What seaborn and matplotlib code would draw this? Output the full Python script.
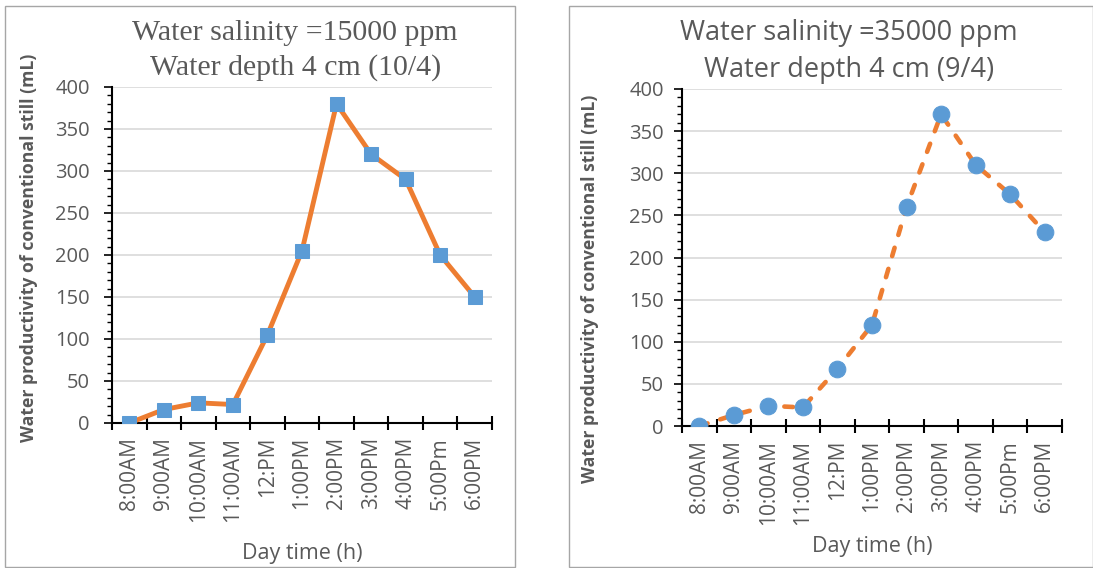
import matplotlib
matplotlib.use("Agg")
import matplotlib.pyplot as plt
import seaborn as sns
import pandas as pd
from matplotlib.ticker import MultipleLocator, FixedLocator
from matplotlib.patches import Rectangle

times = ["8:00AM", "9:00AM", "10:00AM", "11:00AM", "12:PM", "1:00PM",
         "2:00PM", "3:00PM", "4:00PM", "5:00Pm", "6:00PM"]
prod_15000 = [0, 16, 24, 22, 105, 205, 380, 320, 290, 200, 150]
prod_35000 = [0, 13, 24, 22, 68, 120, 260, 370, 310, 275, 230]
title_left = "Water salinity =15000 ppm\nWater depth 4 cm (10/4)"
title_right = "Water salinity =35000 ppm\nWater depth 4 cm (9/4)"
ylabel = "Water productivity of conventional still (mL)"
xlabel = "Day time (h)"

sns.set_theme(style="white")
plt.rcParams['font.family'] = ['Open Sans', 'DejaVu Sans']

ORANGE = "#ED7D31"
BLUE = "#5B9BD5"
GREY = "#595959"

fig = plt.figure(figsize=(10.93, 5.68), dpi=100)
W, H = 1093, 568

# panel borders
for (x0, x1) in [(5, 515), (569, 1093)]:
    fig.add_artist(Rectangle((x0 / W, 1 - 567 / H), (x1 - x0) / W, (567 - 6) / H,
                             transform=fig.transFigure, fill=False,
                             edgecolor="#A6A6A6", linewidth=1.0))

def make_ax(left, right, top, bottom):
    return fig.add_axes([left / W, 1 - bottom / H, (right - left) / W, (bottom - top) / H])

axL = make_ax(112, 492, 87, 423)
axR = make_ax(682, 1062, 89, 426)

dfL = pd.DataFrame({"time": times, "value": prod_15000, "pos": range(len(times))})
dfR = pd.DataFrame({"time": times, "value": prod_35000, "pos": range(len(times))})

sns.lineplot(data=dfL, x="pos", y="value", ax=axL, color=ORANGE, linewidth=3.5,
             marker="s", markersize=10.5, markerfacecolor=BLUE, markeredgecolor=BLUE,
             sort=False, zorder=5)
sns.lineplot(data=dfR, x="pos", y="value", ax=axR, color=ORANGE, linewidth=3.3,
             marker="o", markersize=12, markerfacecolor=BLUE, markeredgecolor=BLUE,
             sort=False, zorder=5)
axR.lines[0].set_dashes((1.9, 2.9))
axR.lines[0].set_dash_capstyle("round")

panels = [
    (axL, title_left, "Liberation Serif", 21.5, 0.482, 15, 10, (-0.195, 0.521)),
    (axR, title_right, "Open Sans", 19.5, 0.44, 8, 7, (-0.218, 0.4065)),
]
for ax, title, tfont, tsize, tx, xpad, ypad, ylab_xy in panels:
    ax.set_xlim(-0.5, len(times) - 0.5)
    ax.set_ylim(0, 400)
    ax.yaxis.set_major_locator(MultipleLocator(50))
    ax.yaxis.set_minor_locator(MultipleLocator(10))
    ax.set_xticks(range(len(times)))
    ax.set_xticklabels(times, rotation=90, fontsize=15, color=GREY)
    ax.xaxis.set_minor_locator(FixedLocator([i - 0.5 for i in range(len(times) + 1)]))
    ax.tick_params(axis="x", which="major", length=0, pad=10)
    ax.tick_params(axis="x", which="minor", direction="inout", length=10, width=1.5,
                   color="black", bottom=True)
    ax.tick_params(axis="y", which="major", direction="out", length=6, width=1.2,
                   color="black", left=True, labelsize=14.5, labelcolor=GREY, pad=ypad)
    ax.tick_params(axis="y", which="minor", direction="out", length=3.5, width=1.0,
                   color="black", left=True)
    ax.grid(axis="y", which="major", color="#D9D9D9", linewidth=1.2)
    ax.set_axisbelow(True)
    for s in ["top", "right"]:
        ax.spines[s].set_visible(False)
    for s in ["left", "bottom"]:
        ax.spines[s].set_color("black")
        ax.spines[s].set_linewidth(1.5)
    ax.set_ylabel(ylabel, fontsize=12.7, fontweight="bold", color=GREY)
    ax.yaxis.set_label_coords(*ylab_xy)
    ax.set_xlabel(xlabel, fontsize=15.5, color=GREY, labelpad=xpad)
    ax.set_title(title, fontsize=tsize, family=tfont, color=GREY, pad=9,
                 linespacing=1.4, x=tx)

fig.savefig("out.png", dpi=100)
